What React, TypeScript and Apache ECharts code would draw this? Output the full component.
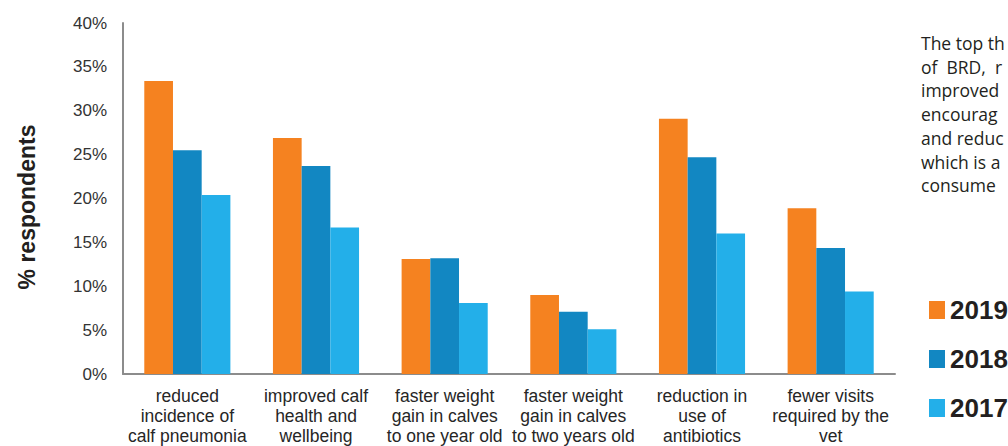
import React, { useEffect, useRef } from "react";
import * as echarts from "echarts";

const categories = [
  "reduced\nincidence of\ncalf pneumonia",
  "improved calf\nhealth and\nwellbeing",
  "faster weight\ngain in calves\nto one year old",
  "faster weight\ngain in calves\nto two years old",
  "reduction in\nuse of\nantibiotics",
  "fewer visits\nrequired by the\nvet",
];
const seriesNames = ["2019", "2018", "2017"];
const values2019 = [33.4, 26.9, 13.1, 9.0, 29.1, 18.9];
const values2018 = [25.5, 23.7, 13.2, 7.1, 24.7, 14.35];
const values2017 = [20.4, 16.7, 8.1, 5.1, 16.0, 9.4];
const colors = ["#F58220", "#1287C2", "#23AFE9"];
const sideText = [
  "The top th",
  "of  BRD,  r",
  "improved",
  "encourag",
  "and reduc",
  "which is a",
  "consume",
];

export default function App() {
  const ref = useRef<HTMLDivElement>(null);
  useEffect(() => {
    if (!ref.current) return;
    const chart = echarts.init(ref.current, null, { renderer: "svg" });
    const data = [values2019, values2018, values2017];
    chart.setOption({
      animation: false,
      backgroundColor: "#ffffff",
      grid: { left: 123, right: 113, top: 23, bottom: 71, containLabel: false },
      legend: {
        orient: "vertical",
        left: 929,
        top: 297,
        padding: 0,
        itemWidth: 16,
        itemHeight: 18,
        itemGap: 23,
        icon: "rect",
        textStyle: {
          fontSize: 26,
          fontWeight: "bold",
          fontFamily: "Liberation Sans",
          color: "#231f20",
        },
        data: seriesNames,
      },
      xAxis: {
        type: "category",
        data: categories,
        axisLine: { lineStyle: { color: "#8c8c8c", width: 2 } },
        axisTick: { show: false },
        axisLabel: {
          interval: 0,
          margin: 12,
          fontSize: 17.5,
          lineHeight: 20,
          fontFamily: "Liberation Sans",
          color: "#262626",
        },
      },
      yAxis: {
        type: "value",
        min: 0,
        max: 40,
        interval: 5,
        splitLine: { show: false },
        axisLine: { show: true, lineStyle: { color: "#8c8c8c", width: 2 } },
        axisTick: { show: false },
        axisLabel: {
          formatter: "{value}%",
          margin: 16,
          fontSize: 17,
          fontFamily: "Liberation Sans",
          color: "#333333",
        },
      },
      series: seriesNames.map((name, i) => ({
        name,
        type: "bar",
        data: data[i],
        barWidth: 28.7,
        barGap: "0%",
        itemStyle: { color: colors[i] },
      })),
      graphic: [
        {
          type: "text",
          x: 27,
          y: 207,
          rotation: Math.PI / 2,
          style: {
            text: "% respondents",
            fontSize: 23,
            fontWeight: "bold",
            fontFamily: "Liberation Sans",
            fill: "#231f20",
            align: "center",
            verticalAlign: "middle",
          },
        },
        ...sideText.map((t, i) => ({
          type: "text",
          x: 921,
          y: 43 + i * 23.7,
          style: {
            text: t,
            fontSize: 17.5,
            fontFamily: "Open Sans",
            fill: "#231f20",
            align: "left",
            verticalAlign: "middle",
          },
        })),
      ],
    });
    return () => chart.dispose();
  }, []);
  return (
    <div style={{ position: "fixed", left: 0, top: 0, width: 1008, height: 446 }}>
      <div ref={ref} style={{ width: 1008, height: 446 }} />
    </div>
  );
}
